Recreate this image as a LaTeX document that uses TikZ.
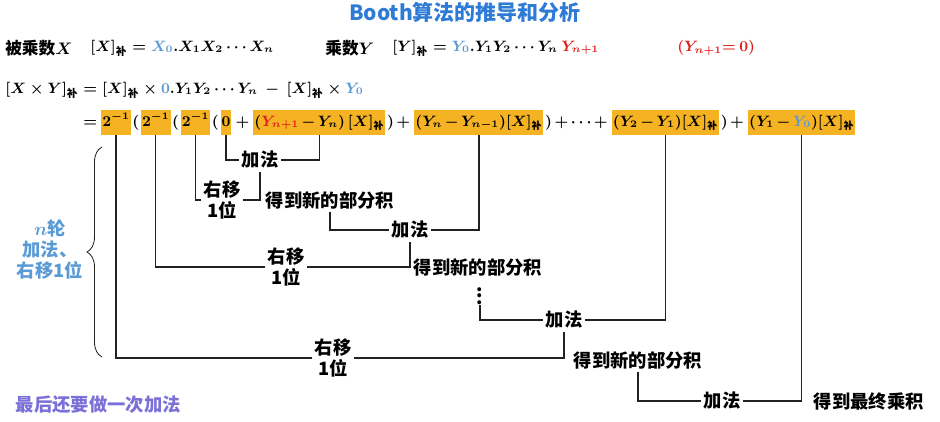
\documentclass[tikz,border=0pt]{standalone}
\usepackage{amsmath}
\usepackage{fontspec}
\newfontfamily\cjk{Noto Sans CJK SC}
\usepackage{tikz}
\usetikzlibrary{
  positioning,
  decorations.pathreplacing,
}
\definecolor{hiamber}{HTML}{F5B324}
\definecolor{skyb}{HTML}{5B9BD5}
\definecolor{redy}{HTML}{E0201A}
\definecolor{headblue}{HTML}{2E7BD6}
\definecolor{lastviolet}{HTML}{7B6FD8}
\definecolor{wireink}{HTML}{222222}
\newcommand{\bu}{_{\text{\cjk\bfseries 补}}}
\newcommand{\tightops}{\medmuskip=2.5mu\relax\thickmuskip=3mu\relax}
\tikzset{
  head/.style={font=\cjk\bfseries\fontsize{12.6}{15}\selectfont, text=headblue},
  mathrow/.style={font=\cjk\bfseries\boldmath\fontsize{9.2}{12}\selectfont, anchor=west, inner sep=0pt},
  cjkrow/.style={font=\cjk\bfseries\boldmath\fontsize{10}{12}\selectfont, anchor=west, inner sep=0pt},
  seg/.style={
    font=\cjk\bfseries\boldmath\fontsize{9}{12}\selectfont,
    execute at begin node=\tightops,
    inner xsep=0.6pt,
    inner ysep=1.5pt,
    text height=8.4pt,
    text depth=3.6pt,
  },
  hl/.style={seg, fill=hiamber},
  op/.style={font=\cjk\bfseries\fontsize{11}{13}\selectfont, inner sep=1.5pt, align=center},
  wire/.style={draw=wireink, line width=0.7pt},
  side/.style={font=\cjk\bfseries\boldmath\fontsize{11}{12.6}\selectfont, text=skyb, align=center},
}
\begin{document}
\begin{tikzpicture}[x=0.6pt, y=-0.6pt]
  \useasboundingbox (0,0) rectangle (940,421);
  \node[head] (title) at (465,12) {Booth算法的推导和分析};

  % operands
  \node[cjkrow] (mcand) at (5,48) {被乘数$X$};
  \node[mathrow] (xc) at (90,48) {$[X]\bu = {\color{skyb}X_0}.X_1X_2\cdots X_n$};
  \node[cjkrow] (mplier) at (325,48) {乘数$Y$};
  \node[mathrow] (yc) at (392,48) {$[Y]\bu = {\color{skyb}Y_0}.Y_1Y_2\cdots Y_n\ {\color{redy}Y_{n+1}}$};
  \node[mathrow, text=redy] (ycond) at (677,48) {$(Y_{n+1}{=}\ 0)$};
  \node[mathrow] (prod) at (5,90) {$[X\times Y]\bu = [X]\bu\times{\color{skyb}0}.Y_1Y_2\cdots Y_n\ -\ [X]\bu\times{\color{skyb}Y_0}$};

  % expanded row
  \node[seg, anchor=west] (eq) at (82,122) {$=$};
  \node[hl, base right=1.5pt of eq] (b1) {$2^{-1}$};
  \node[seg, base right=0pt of b1] (p1) {$($};
  \node[hl, base right=0pt of p1] (b2) {$2^{-1}$};
  \node[seg, base right=0pt of b2] (p2) {$($};
  \node[hl, base right=0pt of p2] (b3) {$2^{-1}$};
  \node[seg, base right=0pt of b3] (p3) {$($};
  \node[hl, base right=0pt of p3] (b4) {$0$};
  \node[seg, base right=0pt of b4] (p4) {${}+{}$};
  \node[hl, base right=0pt of p4] (b5) {$({\color{redy}Y_{n+1}}-Y_n)\,[X]\bu$};
  \node[seg, base right=0pt of b5] (p5) {$)+{}$};
  \node[hl, base right=0pt of p5] (b6) {$(Y_n-Y_{n-1})[X]\bu$};
  \node[seg, base right=0pt of b6] (p6) {$)+\cdots+{}$};
  \node[hl, base right=0pt of p6] (b7) {$(Y_2-Y_1)[X]\bu$};
  \node[seg, base right=0pt of b7] (p7) {$)+{}$};
  \node[hl, base right=0pt of p7] (b8) {$(Y_1-{\color{skyb}Y_0})[X]\bu$};

  % steps
  \node[op] (add1) at (260,160) {加法};
  \node[op] (shift1) at (222,200) {右移\\1位};
  \node[op] (part1) at (330,200) {得到新的部分积};
  \node[op] (add2) at (410,230) {加法};
  \node[op] (shift2) at (286,267) {右移\\1位};
  \node[op] (part2) at (478,267) {得到新的部分积};
  \node[op, inner sep=0pt] (dots) at (480,291) {$\vdots$};
  \node[op] (add3) at (564,320) {加法};
  \node[op] (shift3) at (333,358) {右移\\1位};
  \node[op] (part3) at (638,360) {得到新的部分积};
  \node[op] (add4) at (722,401) {加法};
  \node[op, anchor=west] (final) at (811,401) {得到最终乘积};

  \draw[wire] (b4.south) |- (add1.west);
  \draw[wire] (add1.east) -| (b5.south);
  \draw[wire] (b3.south) |- (shift1.west);
  \draw[wire] (add1.south) |- (shift1.east);
  \draw[wire] (part1.south) |- (add2.west);
  \draw[wire] (add2.east) -| (b6.south);
  \draw[wire] (b2.south) |- (shift2.west);
  \draw[wire] (add2.south) |- (shift2.east);
  \draw[wire] (dots.south) |- (add3.west);
  \draw[wire] (add3.east) -| (b7.south);
  \draw[wire] (b1.south) |- (shift3.west);
  \draw[wire] (add3.south) |- (shift3.east);
  \draw[wire] (part3.south) |- (add4.west);
  \draw[wire] (add4.east) -| (b8.south);

  % n rounds
  \draw[wireink, line width=0.5pt, decorate, decoration={brace, amplitude=9pt}] (102,357) -- (102,147);
  \node[side] (rounds) at (50,250) {$n$轮\\加法、\\右移1位};
  \node[op, text=lastviolet, anchor=west] (lastadd) at (13,405) {最后还要做一次加法};
\end{tikzpicture}
\end{document}
